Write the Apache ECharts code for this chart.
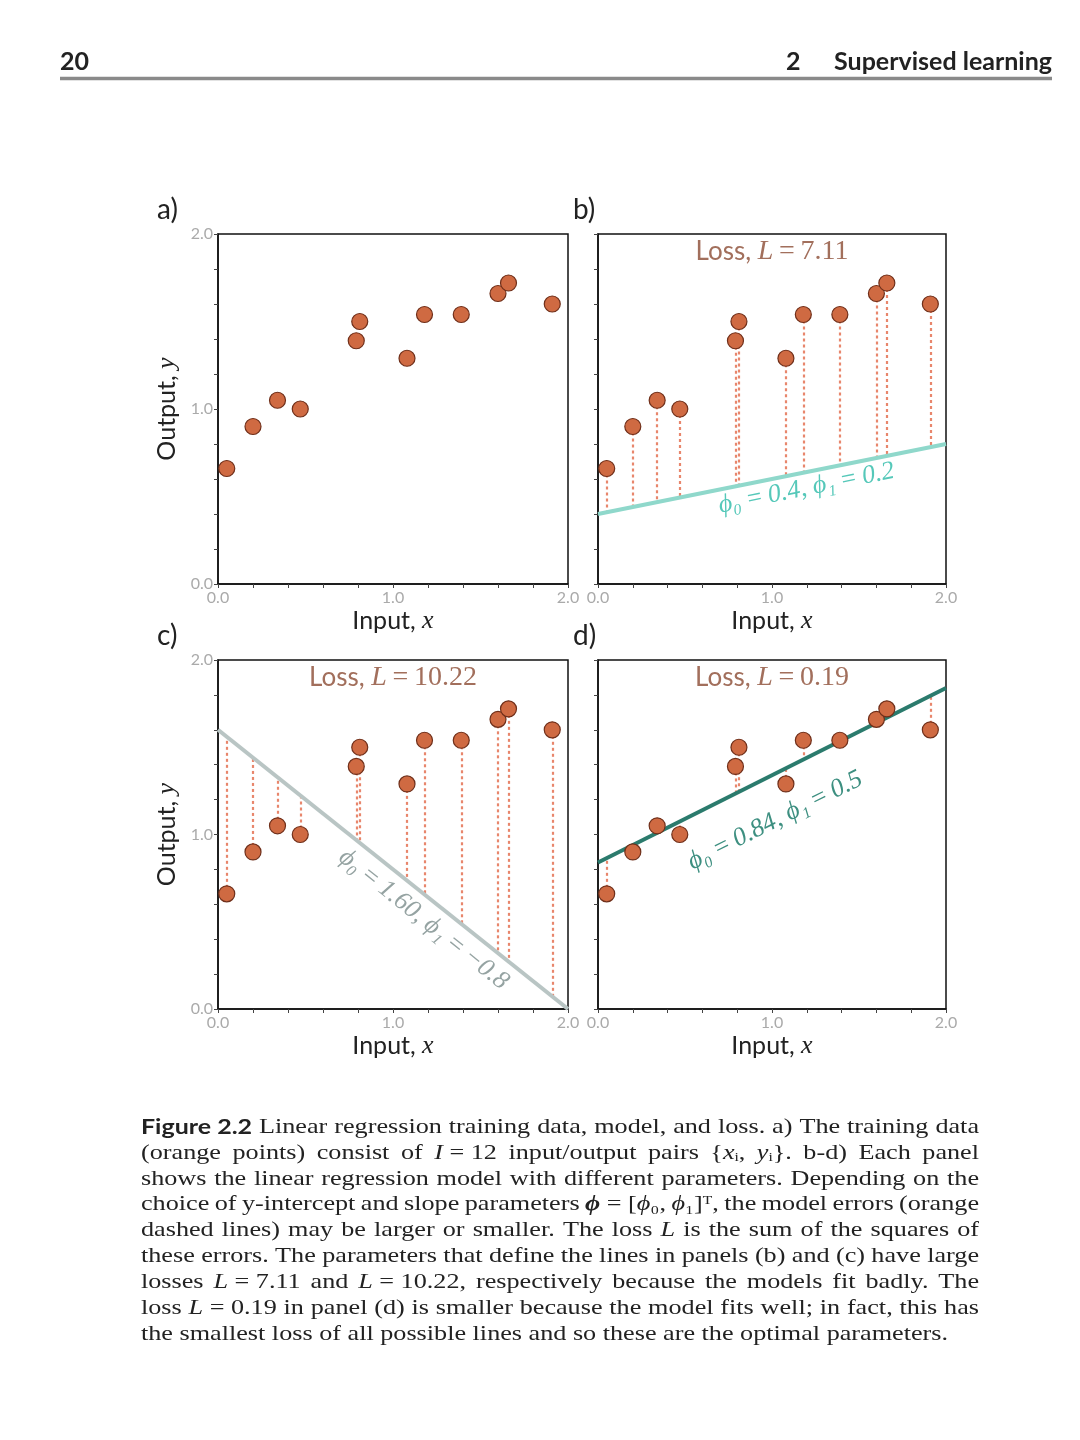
<!DOCTYPE html>
<html><head><meta charset="utf-8">
<script src="https://cdn.jsdelivr.net/npm/echarts@6/dist/echarts.min.js"></script>
<style>html,body{margin:0;padding:0;background:#fff}#c{width:1080px;height:1440px}</style>
</head><body><div id="c"></div>
<script>
// ---- data ----
const xValues = [0.05, 0.20, 0.34, 0.47, 0.79, 0.81, 1.08, 1.18, 1.39, 1.60, 1.66, 1.91];
const yValues = [0.66, 0.90, 1.05, 1.00, 1.39, 1.50, 1.29, 1.54, 1.54, 1.66, 1.72, 1.60];
const panelNames = ['a)', 'b)', 'c)', 'd)'];
const lossValues = ['', '7.11', '10.22', '0.19'];
const phi0Values = [null, 0.4, 1.60, 0.84];
const phi1Values = [null, 0.2, -0.8, 0.5];
const phiLabels = ['', 'ϕ₀\u2009=\u20090.4, ϕ₁\u2009=\u20090.2', 'ϕ₀\u2009=\u20091.60, ϕ₁\u2009=\u2009−0.8', 'ϕ₀\u2009=\u20090.84, ϕ₁\u2009=\u20090.5'];
const tickLabels = ['0.0', '1.0', '2.0'];
const captionLines = [
  '<b>Figure\u00a02.2</b> Linear regression training data, model, and loss. a) The training data',
  '(orange points) consist of <i>I</i>\u00a0=\u00a012 input/output pairs {<i>x</i>ᵢ, <i>y</i>ᵢ}. b-d) Each panel',
  'shows the linear regression model with different parameters. Depending on the',
  'choice of y-intercept and slope parameters <m>ϕ</m>\u00a0=\u00a0[<i>ϕ</i>₀, <i>ϕ</i>₁]ᵀ, the model errors (orange',
  'dashed lines) may be larger or smaller. The loss <i>L</i> is the sum of the squares of',
  'these errors. The parameters that define the lines in panels (b) and (c) have large',
  'losses <i>L</i>\u00a0=\u00a07.11 and <i>L</i>\u00a0=\u00a010.22, respectively because the models fit badly. The',
  'loss <i>L</i>\u00a0=\u00a00.19 in panel (d) is smaller because the model fits well; in fact, this has',
  'the smallest loss of all possible lines and so these are the optimal parameters.'
];

// ---- layout / style ----
const grids = [
  {left: 218, top: 234, width: 350, height: 350},
  {left: 598, top: 234, width: 348, height: 350},
  {left: 218, top: 660, width: 350, height: 349},
  {left: 598, top: 660, width: 348, height: 349}
];
const panelLabelDx = [-61, -25, -61, -25];
const lineColors = ['', '#8fd8cb', '#b9c5c4', '#2b7b6d'];
const labelColors = ['', '#55c8b9', '#95a3a2', '#3d8f80'];
const labelAnchorX = [null, 1.18, 1.246, 0.91];
const labelOffset = [0, 16, 20, 42];
const SANS = 'Lato';
const SERIF = 'Liberation Serif';

const chart = echarts.init(document.getElementById('c'), null, {renderer: 'canvas'});

const xAxes = [], yAxes = [], series = [];
grids.forEach((g, i) => {
  const common = {
    gridIndex: i, type: 'value', min: 0, max: 2, interval: 1,
    axisLine: {show: true, onZero: false, lineStyle: {color: '#111', width: 1.5}},
    axisTick: {show: true, length: 4, lineStyle: {color: '#444', width: 1}},
    minorTick: {show: true, splitNumber: 5, length: 4, lineStyle: {color: '#444', width: 1}},
    splitLine: {show: false},
    axisLabel: {show: true, color: '#aaaaaa', fontSize: 16, fontFamily: SANS, margin: 6,
      showMinLabel: true, showMaxLabel: true,
      formatter: v => tickLabels[Math.round(v)]}
  };
  xAxes.push(Object.assign({}, common, {
    name: 'Input, {m|x}', nameLocation: 'middle', nameGap: 24,
    nameTextStyle: {fontFamily: SANS, fontSize: 25, color: '#222',
      rich: {m: {fontFamily: SERIF, fontStyle: 'italic', fontSize: 26, color: '#222'}}}
  }));
  const showY = (i % 2 === 0);
  yAxes.push(Object.assign({}, common, {
    axisLabel: Object.assign({}, common.axisLabel, {show: showY, margin: 5}),
    name: showY ? 'Output, {m|y}' : '', nameLocation: 'middle', nameGap: 38,
    nameTextStyle: {fontFamily: SANS, fontSize: 25, color: '#222',
      rich: {m: {fontFamily: SERIF, fontStyle: 'italic', fontSize: 26, color: '#222'}}}
  }));
  if (i > 0) {
    const p0 = phi0Values[i], p1 = phi1Values[i];
    series.push({
      type: 'lines', coordinateSystem: 'cartesian2d', xAxisIndex: i, yAxisIndex: i,
      silent: true, z: 1, polyline: false,
      lineStyle: {color: '#e8866c', width: 2.2, type: [3, 3], opacity: 1},
      data: xValues.map((x, k) => ({coords: [[x, yValues[k]], [x, p0 + p1 * x]]}))
    });
    series.push({
      type: 'line', xAxisIndex: i, yAxisIndex: i, silent: true, z: 2,
      symbol: 'none', showSymbol: false,
      lineStyle: {color: lineColors[i], width: 4},
      data: [[0, p0], [2, p0 + p1 * 2]]
    });
  }
  series.push({
    type: 'scatter', xAxisIndex: i, yAxisIndex: i, z: 3, silent: true,
    symbolSize: 16,
    itemStyle: {color: '#cf6a42', borderColor: '#6f2f1a', borderWidth: 1.2, opacity: 1},
    data: xValues.map((x, k) => [x, yValues[k]])
  });
});

chart.setOption({
  animation: false,
  backgroundColor: '#fff',
  grid: grids.map(g => Object.assign({show: true, borderColor: '#111', borderWidth: 1.5, backgroundColor: '#fff'}, g)),
  xAxis: xAxes, yAxis: yAxes, series: series
});

// ---- graphic overlays ----
const graphics = [];
// header
graphics.push({type: 'text', x: 60, y: 62, style: {text: '20', fontFamily: SANS, fontWeight: 'bold', fontSize: 25, fill: '#222', align: 'left', verticalAlign: 'middle'}});
graphics.push({type: 'text', x: 1052, y: 62, style: {text: 'Supervised learning', fontFamily: SANS, fontWeight: 'bold', fontSize: 25, fill: '#222', align: 'right', verticalAlign: 'middle'}});
graphics.push({type: 'text', x: 786, y: 62, style: {text: '2', fontFamily: SANS, fontWeight: 'bold', fontSize: 25, fill: '#222', align: 'left', verticalAlign: 'middle'}});
graphics.push({type: 'line', shape: {x1: 60, y1: 78.5, x2: 1052, y2: 78.5}, style: {stroke: '#8a8a8a', lineWidth: 3.5}});

grids.forEach((g, i) => {
  graphics.push({type: 'text', x: g.left + panelLabelDx[i], y: g.top - 24, style: {text: panelNames[i], fontFamily: SANS, fontSize: 28, fill: '#222', align: 'left', verticalAlign: 'middle'}});
  if (i > 0) {
    graphics.push({type: 'text', x: g.left + g.width / 2, y: g.top + 18, style: {
      text: '{s|Loss, }{m|L}{n|\u2009=\u2009' + lossValues[i] + '}',
      align: 'center', verticalAlign: 'middle',
      rich: {
        s: {fontFamily: SANS, fontSize: 26, fill: '#a26f5c', color: '#a26f5c'},
        m: {fontFamily: SERIF, fontStyle: 'italic', fontSize: 28, fill: '#a26f5c', color: '#a26f5c'},
        n: {fontFamily: SERIF, fontSize: 28, fill: '#a26f5c', color: '#a26f5c'}
      }}});
    const p0 = phi0Values[i], p1 = phi1Values[i];
    const xa = labelAnchorX[i];
    const A = chart.convertToPixel({gridIndex: i}, [xa, p0 + p1 * xa]);
    const B = chart.convertToPixel({gridIndex: i}, [xa + 0.5, p0 + p1 * (xa + 0.5)]);
    let dx = B[0] - A[0], dy = B[1] - A[1];
    const len = Math.hypot(dx, dy); dx /= len; dy /= len;
    const px = -dy, py = dx;
    const off = labelOffset[i];
    graphics.push({type: 'text', x: A[0] + px * off, y: A[1] + py * off, rotation: Math.atan2(-dy, dx),
      style: {text: phiLabels[i], fontFamily: SERIF, fontStyle: 'italic', fontSize: 26, fill: labelColors[i], align: 'center', verticalAlign: 'middle'}});
  }
});

// caption (justified, horizontally widened serif to mimic Computer Modern)
const mctx = document.createElement('canvas').getContext('2d');
const capScale = 1.19;
const capStyles = {
  n: {fontFamily: SERIF, fontSize: 22, fontStyle: 'normal', fontWeight: 'normal'},
  i: {fontFamily: SERIF, fontSize: 22, fontStyle: 'italic', fontWeight: 'normal'},
  b: {fontFamily: SANS, fontSize: 21, fontStyle: 'normal', fontWeight: 'bold'},
  m: {fontFamily: SERIF, fontSize: 22, fontStyle: 'italic', fontWeight: 'bold'}
};
function fontStr(s) { return s.fontStyle + ' ' + s.fontWeight + ' ' + s.fontSize + 'px "' + s.fontFamily + '"'; }
function parseWord(w) {
  const segs = []; const re = /<(\w)>(.*?)<\/\1>/g; let last = 0, m;
  while ((m = re.exec(w))) {
    if (m.index > last) segs.push(['n', w.slice(last, m.index)]);
    segs.push([m[1], m[2]]); last = re.lastIndex;
  }
  if (last < w.length) segs.push(['n', w.slice(last)]);
  return segs;
}
function measure(key, t) { mctx.font = fontStr(capStyles[key]); return mctx.measureText(t).width * capScale; }
const capLeft = 141, capRight = 979, capTop = 1127, capStep = 25.9;
captionLines.forEach((line, li) => {
  const words = line.split(' ').map(parseWord);
  const widths = words.map(ws => ws.reduce((a, s) => a + measure(s[0], s[1]), 0));
  const total = widths.reduce((a, b) => a + b, 0);
  const last = li === captionLines.length - 1;
  const gap = last ? measure('n', ' ') : (capRight - capLeft - total) / (words.length - 1);
  let cx = capLeft;
  const y = capTop + li * capStep;
  words.forEach((ws) => {
    ws.forEach(s => {
      const st = capStyles[s[0]];
      graphics.push({type: 'text', x: cx, y: y, scaleX: capScale, style: {text: s[1], fontFamily: st.fontFamily, fontSize: st.fontSize, fontStyle: st.fontStyle, fontWeight: st.fontWeight, fill: '#222', align: 'left', verticalAlign: 'middle'}});
      cx += measure(s[0], s[1]);
    });
    cx += gap;
  });
});

chart.setOption({graphic: graphics});
</script>
</body></html>
